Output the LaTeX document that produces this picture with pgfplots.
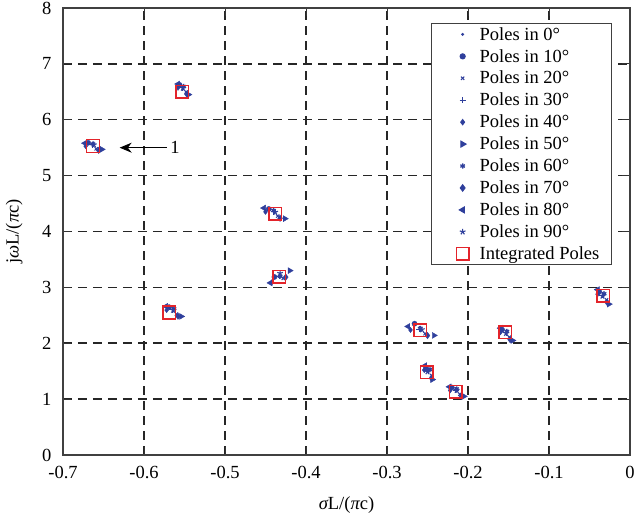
\documentclass[border=0pt]{standalone}
\usepackage{fontspec}
\setmainfont{Liberation Serif}
\usepackage{pgfplots}
\pgfplotsset{compat=1.18}
\usetikzlibrary{arrows.meta}
\definecolor{pblue}{HTML}{2F3F9C}
\definecolor{pred}{HTML}{E3242B}

\begin{document}
\begin{tikzpicture}
\begin{axis}[
    name=ax,
    scale only axis,
    width=567pt, height=447pt,
    xmin=-0.7, xmax=0, ymin=0, ymax=8,
    xtick={-0.7,-0.6,...,0}, ytick={0,1,...,8},
    xticklabels={-0.7,-0.6,-0.5,-0.4,-0.3,-0.2,-0.1,0},
    font=\fontsize{18.5}{22}\selectfont,
    /pgf/number format/assume math mode=true,
    xticklabel style={yshift=-8pt},
    yticklabel style={xshift=-8pt},
    tick align=inside, major tick length=8pt,
    tick style={black!80, line width=0.8pt},
    axis line style={black!75, line width=1.2pt},
    grid=major,
    major grid style={black!85, line width=1.5pt, dash pattern=on 9pt off 6pt},
    xlabel={{\itshape σ}L/({\itshape π}c)},
    ylabel={j{\itshape ω}L/({\itshape π}c)},
    xlabel style={at={(axis description cs:0.5,-0.112)}, anchor=center},
    ylabel style={at={(axis description cs:-0.086,0.5)}, anchor=center},
    legend style={at={(0.968,0.967)}, anchor=north east, draw=black!75,
        line width=1pt, font=\fontsize{18.5}{22}\selectfont, row sep=3.6pt,
        inner xsep=10pt},
    legend cell align=left,
    every axis plot/.append style={legend image code/.code={
        \path[draw=none, fill=none] (0pt,-4pt) rectangle (36pt,4pt);
        \draw[#1] plot coordinates {(21pt,0pt)};}},
    clip=false,
]
% Poles in 0 deg
\addplot[only marks, mark=*, mark size=0.9pt, color=pblue] coordinates {
(-0.663,5.525) (-0.552,6.545) (-0.439,4.325) (-0.432,3.190) (-0.564,2.570)
(-0.258,2.220) (-0.153,2.160) (-0.249,1.475) (-0.214,1.135) (-0.033,2.830)};
\addlegendentry{Poles in 0°}
% Poles in 10 deg
\addplot[only marks, mark=*, mark size=2.6pt, color=pblue] coordinates {
(-0.669,5.587) (-0.556,6.623) (-0.446,4.403) (-0.439,3.186) (-0.569,2.646)
(-0.266,2.350) (-0.158,2.244) (-0.252,1.565) (-0.220,1.209) (-0.038,2.922)};
\addlegendentry{Poles in 10°}
% Poles in 20 deg
\addplot[only marks, mark=x, mark size=2.3pt, line width=1pt, color=pblue] coordinates {
(-0.659,5.480) (-0.548,6.496) (-0.435,4.276) (-0.428,3.161) (-0.560,2.521)
(-0.253,2.172) (-0.149,2.109) (-0.245,1.423) (-0.210,1.087) (-0.029,2.777)};
\addlegendentry{Poles in 20°}
% Poles in 30 deg
\addplot[only marks, mark=+, mark size=3pt, line width=0.8pt, color=pblue] coordinates {
(-0.664,5.551) (-0.552,6.575) (-0.440,4.355) (-0.433,3.199) (-0.565,2.599)
(-0.260,2.248) (-0.153,2.191) (-0.249,1.508) (-0.215,1.164) (-0.034,2.863)};
\addlegendentry{Poles in 30°}
% Poles in 40 deg
\addplot[only marks, mark=diamond*, mark size=2.6pt, color=pblue] coordinates {
(-0.672,5.528) (-0.558,6.572) (-0.450,4.352) (-0.442,3.094) (-0.572,2.594)
(-0.271,2.238) (-0.160,2.196) (-0.254,1.520) (-0.222,1.156) (-0.040,2.878)};
\addlegendentry{Poles in 40°}
% Poles in 50 deg
\addplot[only marks, mark=triangle*, mark size=3.4pt, mark options={rotate=-90}, color=pblue] coordinates {
(-0.652,5.470) (-0.545,6.450) (-0.426,4.230) (-0.420,3.300) (-0.554,2.480)
(-0.242,2.140) (-0.145,2.050) (-0.244,1.350) (-0.205,1.050) (-0.026,2.700)};
\addlegendentry{Poles in 50°}
% Poles in 60 deg
\addplot[only marks, mark=asterisk, mark size=2.6pt, line width=1.3pt, color=pblue] coordinates {
(-0.663,5.566) (-0.551,6.594) (-0.440,4.374) (-0.432,3.198) (-0.563,2.618)
(-0.259,2.266) (-0.152,2.212) (-0.247,1.530) (-0.214,1.182) (-0.032,2.886)};
\addlegendentry{Poles in 60°}
% Poles in 70 deg
\addplot[only marks, mark=diamond*, mark size=3.2pt, color=pblue] coordinates {
(-0.656,5.453) (-0.547,6.457) (-0.432,4.237) (-0.425,3.184) (-0.558,2.484)
(-0.250,2.138) (-0.148,2.066) (-0.245,1.375) (-0.208,1.051) (-0.028,2.728)};
\addlegendentry{Poles in 70°}
% Poles in 80 deg
\addplot[only marks, mark=triangle*, mark size=3.4pt, mark options={rotate=90}, color=pblue] coordinates {
(-0.673,5.580) (-0.558,6.640) (-0.452,4.420) (-0.444,3.080) (-0.573,2.660)
(-0.274,2.300) (-0.160,2.270) (-0.253,1.600) (-0.223,1.220) (-0.040,2.960)};
\addlegendentry{Poles in 80°}
% Poles in 90 deg
\addplot[only marks, mark=star, mark size=3pt, line width=1.1pt, color=pblue] coordinates {
(-0.662,5.554) (-0.552,6.566) (-0.438,4.346) (-0.432,3.252) (-0.564,2.592)
(-0.257,2.244) (-0.153,2.178) (-0.250,1.490) (-0.214,1.158) (-0.034,2.844)};
\addlegendentry{Poles in 90°}
% Integrated poles
\addplot[only marks, mark=square, mark size=6.3pt, line width=1.5pt, color=pred] coordinates {
(-0.663,5.530) (-0.553,6.500) (-0.438,4.320) (-0.433,3.190) (-0.569,2.550)
(-0.259,2.230) (-0.154,2.200) (-0.251,1.480) (-0.215,1.130) (-0.033,2.850)};
\addlegendentry{Integrated Poles}
% annotation
\draw[-{Stealth[length=12pt,width=10pt]}, line width=0.8pt, black] (axis cs:-0.572,5.5) -- (axis cs:-0.630,5.5);
\node[anchor=west, inner sep=2pt] at (axis cs:-0.570,5.5) {1};
\end{axis}
\pgfresetboundingbox
\path ([shift={(-63pt,-61pt)}]ax.south west) rectangle ([shift={(13pt,8pt)}]ax.north east);
\end{tikzpicture}
\end{document}
